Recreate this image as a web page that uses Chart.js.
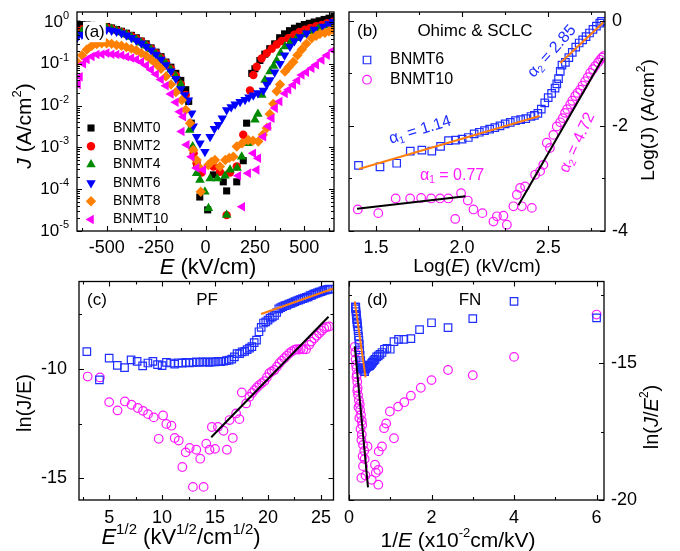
<!DOCTYPE html>
<html>
<head>
<meta charset="utf-8">
<title>BNMT leakage current analysis</title>
<script src="https://cdn.jsdelivr.net/npm/chart.js"></script>
<style>
  html, body { margin: 0; padding: 0; background: #fff; }
  #wrap { position: relative; width: 680px; height: 551px; overflow: hidden; }
  #wrap canvas { position: absolute; }
</style>
</head>
<body>
<div id="wrap">
  <canvas id="pa" width="340" height="285" style="left:0;top:0"></canvas>
  <canvas id="pb" width="340" height="285" style="left:340px;top:0"></canvas>
  <canvas id="pc" width="340" height="276" style="left:0;top:275px"></canvas>
  <canvas id="pd" width="340" height="276" style="left:340px;top:275px"></canvas>
</div>
<script>
// ---------- (a) J vs E, all compositions ----------
const eBNMT0 = [-650,-625,-600,-575,-550,-525,-500,-475,-450,-425,-400,-375,-350,-325,-300,-275,-250,-225,-200,-175,-150,-125,-100,-85,-72,-45,-29,11,40,90,107,158,191,208,234,250,275,300,325,350,375,400,425,450,475,500,525,550,575,600,625,650];
const jBNMT0 = [0.89,0.87,0.85,0.83,0.81,0.79,0.78,0.72,0.66,0.60,0.54,0.48,0.42,0.35,0.30,0.24,0.19,0.148,0.11,0.083,0.059,0.040,0.024,0.0126,0.0038,4.0e-4,6.5e-5,3.2e-5,2.2e-4,1.5e-4,9.1e-5,1.5e-4,4.8e-4,3.8e-3,0.059,0.076,0.12,0.17,0.23,0.30,0.42,0.52,0.62,0.71,0.79,0.87,0.93,1.0,1.07,1.15,1.23,1.35];
const eBNMT2 = [-650,-625,-600,-575,-550,-525,-500,-475,-450,-425,-400,-375,-350,-325,-300,-275,-250,-225,-200,-175,-150,-125,-100,-60,-45,-20,40,73,107,124,158,191,225,242,259,284,310,335,360,385,419,450,475,503,530,560,588,615,646];
const jBNMT2 = [0.60,0.66,0.74,0.76,0.76,0.76,0.74,0.69,0.63,0.58,0.51,0.46,0.40,0.34,0.28,0.23,0.18,0.138,0.105,0.076,0.052,0.032,0.018,7.2e-4,4.2e-4,2.5e-4,3.5e-4,2.6e-4,2.4e-5,2.5e-4,3.5e-4,2.0e-3,0.023,0.054,0.085,0.135,0.18,0.23,0.29,0.35,0.41,0.50,0.58,0.65,0.72,0.79,0.85,0.93,1.02];
const eBNMT4 = [-650,-625,-600,-575,-550,-525,-500,-475,-450,-425,-400,-375,-350,-325,-300,-275,-250,-225,-200,-175,-150,-125,-100,-80,-65,-45,-28,-3,15,23,60,99,107,124,160,183,215,250,265,285,301,326,345,360,380,402,430,461,500,537,570,610,646];
const jBNMT4 = [0.52,0.60,0.68,0.71,0.72,0.72,0.71,0.68,0.62,0.56,0.50,0.44,0.38,0.32,0.27,0.22,0.17,0.13,0.10,0.072,0.050,0.032,0.014,2.6e-3,1.05e-3,2.4e-4,1.66e-4,8.7e-5,3.5e-5,1.8e-4,1.8e-4,2.1e-4,2.4e-5,2.9e-4,3.2e-4,6.0e-4,1.26e-3,4.6e-3,6.3e-3,0.018,0.041,0.065,0.089,0.12,0.18,0.26,0.33,0.41,0.50,0.59,0.69,0.81,0.93];
const eBNMT6 = [-650,-625,-600,-575,-550,-525,-500,-475,-450,-425,-400,-375,-350,-325,-300,-275,-250,-225,-200,-175,-150,-125,-105,-87,-70,-62,-45,-28,-3,23,45,65,85,107,130,150,175,200,220,242,265,293,310,326,350,377,400,427,450,480,512,550,596,625,646];
const jBNMT6 = [0.42,0.50,0.60,0.66,0.68,0.68,0.66,0.63,0.59,0.54,0.48,0.42,0.36,0.31,0.26,0.21,0.166,0.126,0.093,0.066,0.044,0.025,0.018,0.0135,6.6e-3,3.2e-3,1.8e-3,1.26e-3,7.9e-4,1.8e-3,2.8e-3,3.5e-3,5.0e-3,7.8e-3,9.3e-3,0.0107,0.0123,0.0138,0.0158,0.0178,0.020,0.023,0.032,0.041,0.063,0.10,0.16,0.26,0.35,0.44,0.54,0.66,0.78,0.89,1.02];
const eBNMT8 = [-650,-625,-600,-575,-550,-525,-500,-475,-450,-425,-400,-375,-350,-325,-300,-275,-250,-225,-200,-175,-150,-120,-100,-78,-62,-45,-36,-24,14,30,48,73,100,120,141,158,185,216,240,267,290,310,325,343,360,377,402,420,444,465,487,510,537,560,579,604,625,646];
const jBNMT8 = [0.11,0.16,0.22,0.27,0.295,0.31,0.31,0.30,0.28,0.27,0.25,0.23,0.21,0.18,0.155,0.126,0.10,0.076,0.05,0.032,0.021,0.0135,7.9e-3,3.8e-3,8.7e-4,5.0e-4,3.5e-4,8.7e-5,3.8e-4,4.5e-4,5.0e-4,3.5e-4,5.0e-4,5.6e-4,6.0e-4,1.05e-3,1.26e-3,1.5e-3,1.45e-3,1.38e-3,2.0e-3,2.9e-3,6.3e-3,0.011,0.022,0.032,0.065,0.083,0.11,0.16,0.22,0.30,0.41,0.47,0.52,0.55,0.60,0.65];
const eBNMT10 = [-645,-635,-618,-600,-575,-550,-525,-500,-475,-450,-425,-400,-375,-350,-325,-300,-275,-250,-225,-200,-175,-150,-130,-120,-112,-95,-70,-45,-11,166,186,216,242,259,267,293,318,335,352,375,402,420,444,465,487,510,537,560,588,615,646];
const jBNMT10 = [0.032,0.049,0.10,0.126,0.15,0.166,0.17,0.18,0.17,0.166,0.16,0.148,0.138,0.126,0.11,0.091,0.072,0.056,0.042,0.030,0.019,0.012,7.1e-3,2.4e-3,5.4e-3,1.15e-3,6.0e-4,3.2e-4,2.9e-4,2.1e-4,3.8e-5,2.4e-4,7.2e-4,2.9e-4,5.5e-4,1.8e-3,3.2e-3,5.0e-3,8.7e-3,0.0126,0.0195,0.024,0.031,0.040,0.054,0.063,0.078,0.095,0.123,0.16,0.21];
const xTicksA = [-500, -250, 0, 250, 500];

// ---------- (b) Ohmic & SCLC: Log(J) vs Log(E) ----------
const logE6 = [1.398,1.523,1.62,1.699,1.766,1.824,1.875,1.921,1.962,2.0,2.036,2.07,2.1,2.13,2.16,2.19,2.22,2.25,2.28,2.31,2.34,2.37,2.4,2.42,2.44,2.46,2.48,2.5,2.52,2.54,2.55,2.56,2.57,2.58,2.6,2.62,2.64,2.66,2.68,2.7,2.72,2.74,2.76,2.78,2.8,2.81];
const logJ6 = [-2.75,-2.78,-2.71,-2.48,-2.46,-2.48,-2.39,-2.28,-2.27,-2.25,-2.22,-2.15,-2.12,-2.09,-2.06,-2.03,-2.0,-1.96,-1.93,-1.9,-1.88,-1.86,-1.82,-1.8,-1.76,-1.68,-1.56,-1.46,-1.38,-1.28,-1.2,-1.1,-0.96,-0.84,-0.79,-0.7,-0.6,-0.5,-0.42,-0.36,-0.3,-0.23,-0.16,-0.1,-0.04,-0.01];
const logE10 = [1.394,1.513,1.614,1.698,1.762,1.82,1.872,1.92,1.96,1.994,2.033,2.066,2.118,2.182,2.202,2.24,2.26,2.298,2.318,2.337,2.347,2.366,2.405,2.424,2.453,2.472,2.492,2.51,2.53,2.55,2.57,2.585,2.598,2.61,2.628,2.64,2.657,2.67,2.686,2.7,2.715,2.73,2.744,2.76,2.773,2.79,2.802,2.812,2.822];
const logJ10 = [-3.59,-3.66,-3.38,-3.38,-3.37,-3.38,-3.38,-3.38,-3.77,-3.28,-3.42,-3.59,-3.66,-3.82,-3.72,-3.71,-3.88,-3.53,-3.31,-3.18,-3.53,-3.15,-3.56,-2.93,-2.86,-2.74,-2.32,-2.42,-2.17,-2.01,-1.93,-1.85,-1.75,-1.68,-1.59,-1.52,-1.43,-1.37,-1.31,-1.23,-1.15,-1.07,-0.99,-0.92,-0.86,-0.79,-0.74,-0.7,-0.67];
const fitOhm6X = [1.4, 2.45],   fitOhm6Y = [-2.82, -1.81];
const fitScl6X = [2.57, 2.82],  fitScl6Y = [-0.8, -0.03];
const fitOhm10X = [1.39, 2.02], fitOhm10Y = [-3.575, -3.34];
const fitScl10X = [2.327, 2.818], fitScl10Y = [-3.51, -0.705];
const xTicksB = [1.5, 2.0, 2.5];
const yTicksB = [0, -2, -4];

// ---------- (c) Poole-Frenkel: ln(J/E) vs E^1/2 ----------
const sqrtE6 = [2.89,4.08,5.0,5.77,6.45,7.07,7.64,8.16,8.66,9.13,9.57,10.0,10.41,10.8,11.18,11.55,11.9,12.25,12.58,12.91,13.23,13.54,13.84,14.14,14.43,14.72,15.0,15.28,15.55,15.81,16.07,16.33,16.58,16.83,17.08,17.32,17.56,17.8,18.03,18.26,18.48,18.7,18.92,19.15,19.36,19.58,19.79,20.0,20.2,20.41,20.62,20.82,21.02,21.21,21.4,21.6,21.79,21.98,22.17,22.36,22.55,22.73,22.91,23.09,23.27,23.45,23.63,23.8,23.98,24.15,24.32,24.49,24.66,24.83,25.0,25.17,25.33,25.5,25.66,25.82];
const lnJE6 = [-9.21,-10.5,-9.51,-9.84,-9.94,-9.59,-9.66,-9.86,-9.73,-9.66,-9.8,-9.85,-9.7,-9.73,-9.78,-9.72,-9.74,-9.7,-9.72,-9.7,-9.68,-9.7,-9.68,-9.68,-9.7,-9.68,-9.68,-9.66,-9.67,-9.65,-9.62,-9.6,-9.55,-9.45,-9.3,-9.3,-9.22,-9.2,-9.12,-9.05,-8.98,-8.8,-8.68,-8.3,-8.1,-7.9,-7.85,-7.77,-7.68,-7.62,-7.55,-7.42,-7.25,-7.2,-7.15,-7.1,-7.08,-7.03,-7.0,-6.96,-6.92,-6.88,-6.85,-6.82,-6.78,-6.76,-6.72,-6.7,-6.65,-6.62,-6.58,-6.55,-6.52,-6.49,-6.47,-6.43,-6.4,-6.38,-6.36,-6.35];
const sqrtE10 = [2.97,4.13,5.0,5.79,6.48,7.11,7.7,8.2,8.67,9.21,9.68,10.09,10.4,10.88,11.19,11.57,11.91,12.23,12.6,12.91,13.23,13.6,13.92,14.17,14.48,14.7,15.0,15.27,15.8,16.12,16.37,16.68,16.99,17.3,17.53,17.94,18.25,18.5,18.72,18.95,19.19,19.42,19.66,19.9,20.13,20.36,20.6,20.84,21.08,21.3,21.55,21.78,22.02,22.25,22.49,22.7,22.9,23.1,23.35,23.6,23.9,24.1,24.37,24.6,24.84,25.08,25.31,25.55,25.78];
const lnJE10 = [-10.35,-10.39,-11.52,-11.9,-11.49,-11.64,-11.79,-11.92,-12.07,-12.22,-13.2,-12.13,-12.52,-12.6,-13.16,-13.28,-14.49,-13.82,-13.62,-15.4,-13.7,-14.11,-15.4,-13.42,-13.7,-12.66,-13.66,-12.66,-12.83,-13.7,-12.34,-13.16,-12.04,-12.3,-11.08,-11.58,-11.28,-11.1,-10.97,-10.85,-10.74,-10.65,-10.56,-10.38,-10.2,-10.12,-10.05,-9.9,-9.74,-9.62,-9.51,-9.4,-9.28,-9.2,-9.13,-9.1,-9.12,-9.08,-9.1,-9.1,-8.9,-8.75,-8.6,-8.48,-8.37,-8.25,-8.14,-8.08,-8.06];
const fitPF6X = [19.35, 26.19],  fitPF6Y = [-7.49, -6.32];
const fitPF10X = [14.64, 25.72], fitPF10Y = [-13.13, -7.61];
const xTicksC = [5, 10, 15, 20, 25];
const yTicksC = [-10, -15];

// ---------- (d) Fowler-Nordheim: ln(J/E^2) vs 1/E ----------
const invE6 = [0.154,0.16,0.165,0.17,0.175,0.18,0.185,0.19,0.195,0.2,0.21,0.22,0.23,0.24,0.25,0.26,0.27,0.285,0.3,0.32,0.34,0.36,0.38,0.4,0.42,0.44,0.46,0.48,0.5,0.52,0.55,0.57,0.6,0.63,0.67,0.71,0.75,0.8,0.86,0.92,1.0,1.09,1.2,1.33,1.5,1.71,2.0,2.4,3.0,4.0,6.0];
const lnJE2_6 = [-12.93,-13.0,-12.95,-13.1,-13.2,-13.25,-13.35,-13.4,-13.5,-13.55,-13.65,-13.8,-14.0,-14.15,-14.3,-14.5,-14.7,-14.9,-15.05,-15.15,-15.2,-15.25,-15.3,-15.2,-15.15,-15.12,-15.1,-15.1,-15.08,-15.05,-15.0,-14.95,-14.9,-14.85,-14.76,-14.72,-14.67,-14.6,-14.48,-14.45,-14.48,-14.2,-14.12,-14.12,-14.09,-13.76,-13.51,-13.69,-13.36,-12.73,-13.33];
const invE10 = [0.14,0.15,0.16,0.17,0.18,0.19,0.2,0.21,0.22,0.24,0.26,0.27,0.29,0.31,0.32,0.31,0.34,0.37,0.45,0.34,0.3,0.4,0.55,0.63,0.65,0.71,0.71,0.72,0.8,0.85,0.9,0.99,1.09,1.19,1.34,1.5,1.74,2.0,2.4,3.0,4.0,6.0,0.18,0.2,0.23,0.25,0.28,0.3,0.33,0.38];
const lnJE2_10 = [-14.39,-14.6,-14.85,-15.05,-15.18,-15.4,-15.67,-15.9,-16.16,-16.35,-16.5,-16.7,-16.89,-17.1,-17.25,-17.6,-17.98,-18.2,-18.04,-18.76,-19.19,-19.1,-19.26,-18.71,-19.0,-18.9,-19.44,-18.22,-18.04,-17.37,-17.2,-16.76,-17.74,-16.58,-16.42,-16.18,-15.89,-15.61,-15.24,-15.43,-14.76,-13.21,-15.5,-16.0,-16.6,-17.0,-17.4,-17.8,-18.4,-18.5];
const fitFN6X = [0.14, 0.40],  fitFN6Y = [-12.73, -15.51];
const fitFN10X = [0.14, 0.46], fitFN10Y = [-14.37, -19.54];
const xTicksD = [0, 2, 4, 6];
const yTicksD = [-15, -20];

// ---------- drawing ----------
const FAMILY = '"Liberation Sans", Arial, Helvetica, sans-serif';
Chart.defaults.font.family = FAMILY;
Chart.defaults.color = '#000';

const BLUE = '#1f2eff', MAGENTA = '#ff1aff', ORANGE = '#ff7f0e';
const PANELS = {};   // per-canvas decoration settings, read raw by the plugin

function pts(xs, ys) {
  const out = [];
  for (let i = 0; i < Math.min(xs.length, ys.length); i++) out.push({ x: xs[i], y: ys[i] });
  return out;
}

// text with italic / superscript / subscript pieces: flags 'i', 's' (sup), 'd' (sub)
function richText(ctx, parts, x, y, size, opt) {
  opt = opt || {};
  const sub = opt.sup || 0.62;
  const fontOf = f => {
    const small = f.includes('s') || f.includes('d');
    return (f.includes('i') ? 'italic ' : '') + (small ? Math.round(size * sub) : size) + 'px ' + FAMILY;
  };
  ctx.save();
  ctx.translate(x, y);
  if (opt.rot) ctx.rotate(opt.rot * Math.PI / 180);
  ctx.textBaseline = 'middle';
  ctx.textAlign = 'left';
  let w = 0;
  parts.forEach(([t, f]) => { ctx.font = fontOf(f); w += ctx.measureText(t).width; });
  let cx = opt.align === 'left' ? 0 : opt.align === 'right' ? -w : -w / 2;
  if (opt.bg) {
    ctx.fillStyle = '#fff';
    ctx.fillRect(cx - 1, -size * 0.6, w + 2, size * 1.2);
  }
  ctx.fillStyle = opt.color || '#000';
  parts.forEach(([t, f]) => {
    ctx.font = fontOf(f);
    const dy = f.includes('s') ? -size * 0.36 : f.includes('d') ? size * 0.28 : 0;
    ctx.fillText(t, cx, dy);
    cx += ctx.measureText(t).width;
  });
  ctx.restore();
}

// box frame with inward ticks, texts, legend
const panelPlugin = {
  id: 'panel',
  afterDatasetsDraw(chart) {
    const o = PANELS[chart.canvas.id];
    if (!o) return;
    const ctx = chart.ctx, a = chart.chartArea, sx = chart.scales.x, sy = chart.scales.y;
    ctx.save();
    ctx.strokeStyle = '#000';
    ctx.lineWidth = 1.3;
    ctx.strokeRect(a.left, a.top, a.right - a.left, a.bottom - a.top);
    ctx.lineWidth = 1.1;
    const mark = (axis, vals, len) => {
      const s = axis === 'x' ? sx : sy;
      vals.forEach(v => {
        const p = Math.round(s.getPixelForValue(v)) + 0.5;
        ctx.beginPath();
        if (axis === 'x') {
          ctx.moveTo(p, a.bottom); ctx.lineTo(p, a.bottom - len);
          ctx.moveTo(p, a.top); ctx.lineTo(p, a.top + len);
        } else {
          ctx.moveTo(a.left, p); ctx.lineTo(a.left + len, p);
          ctx.moveTo(a.right, p); ctx.lineTo(a.right - len, p);
        }
        ctx.stroke();
      });
    };
    mark('x', o.ticks.xMajor, 5); mark('x', o.ticks.xMinor, 3);
    mark('y', o.ticks.yMajor, 5); mark('y', o.ticks.yMinor, 3);

    if (o.logLabels) {
      o.ticks.yMajor.forEach(v => {
        const e = Math.round(Math.log10(v));
        richText(ctx, [['10', ''], [String(e), 's']], o.logLabels.x, sy.getPixelForValue(v), o.logLabels.size, { align: 'right' });
      });
    }
    (o.texts || []).forEach(t => {
      const x = t.at ? t.at[0] : sx.getPixelForValue(t.val[0]);
      const y = t.at ? t.at[1] : sy.getPixelForValue(t.val[1]);
      richText(ctx, t.parts, x, y, t.size, t);
    });
    if (o.legend) {
      const L = o.legend;
      chart.data.datasets.filter(d => d.label).forEach((d, i) => {
        const y = L.y + i * L.dy;
        ctx.fillStyle = d.pointBackgroundColor;
        ctx.strokeStyle = d.pointBorderColor;
        ctx.lineWidth = d.pointBorderWidth;
        Chart.helpers.drawPoint(ctx, {
          pointStyle: d.pointStyle, radius: d.pointRadius,
          rotation: d.pointRotation || 0, borderWidth: d.pointBorderWidth
        }, L.x, y);
        richText(ctx, [[d.label, '']], L.textX, y, L.size, { align: 'left' });
      });
    }
    ctx.restore();
  }
};
Chart.register(panelPlugin);

function filled(label, xs, ys, style, color, r, rot, order) {
  return { label, data: pts(xs, ys), pointStyle: style, pointRadius: r, pointHoverRadius: r,
    pointRotation: rot, pointBackgroundColor: color, pointBorderColor: color, pointBorderWidth: 0, order };
}
function open(label, xs, ys, style, color, r) {
  return { label, data: pts(xs, ys), pointStyle: style, pointRadius: r, pointHoverRadius: r,
    pointBackgroundColor: 'rgba(0,0,0,0)', pointBorderColor: color, pointBorderWidth: 1.2, order: 2 };
}
function fit(xs, ys, color) {
  return { data: pts(xs, ys), showLine: true, borderColor: color, borderWidth: 2, pointRadius: 0, order: 0 };
}

function makePanel(id, o) {
  PANELS[id] = o.panel;
  const noPad = s => { s.paddingLeft = 0; s.paddingRight = 0; s.paddingTop = 0; s.paddingBottom = 0; };
  return new Chart(document.getElementById(id), {
    type: 'scatter',
    data: { datasets: o.datasets },
    options: {
      responsive: false,
      animation: false,
      devicePixelRatio: 1,
      layout: { padding: o.pad },
      plugins: { legend: { display: false }, tooltip: { enabled: false } },
      scales: {
        x: {
          type: 'linear', position: 'bottom', min: o.x[0], max: o.x[1],
          grid: { display: false, drawTicks: false }, border: { display: false },
          ticks: { font: { size: 18 }, padding: o.xPad, maxRotation: 0, minRotation: 0, autoSkip: false,
                   callback: o.xFmt || (v => String(v)) },
          afterBuildTicks: s => { s.ticks = o.xLabels.map(v => ({ value: v })); },
          afterFit: s => { s.height = o.xH; noPad(s); }
        },
        y: {
          type: o.yLog ? 'logarithmic' : 'linear', position: o.yPos, min: o.y[0], max: o.y[1],
          grid: { display: false, drawTicks: false }, border: { display: false },
          ticks: { display: !o.yLog, font: { size: 18 }, padding: o.yPad, autoSkip: false,
                   callback: v => String(v) },
          afterBuildTicks: s => { if (o.yLabels) s.ticks = o.yLabels.map(v => ({ value: v })); },
          afterFit: s => { s.width = o.yW; noPad(s); }
        }
      }
    }
  });
}

// panel (a)
const decades = [-5, -4, -3, -2, -1, 0];
const yMajA = decades.map(e => Math.pow(10, e));
const yMinA = [];
decades.forEach(e => { for (let k = 2; k <= 9; k++) if (k * Math.pow(10, e) < 1.73) yMinA.push(k * Math.pow(10, e)); });

makePanel('pa', {
  pad: { left: 0, right: 6, top: 12, bottom: 0 },
  x: [-650, 650], y: [1e-5, 1.734], yLog: true, yPos: 'left', yW: 77, xH: 54, xPad: 6, yPad: 8,
  xLabels: xTicksA,
  datasets: [
    filled('BNMT0', eBNMT0, jBNMT0, 'rect', '#000000', 5, 0, 6),
    filled('BNMT2', eBNMT2, jBNMT2, 'circle', '#ff0000', 4.2, 0, 5),
    filled('BNMT4', eBNMT4, jBNMT4, 'triangle', '#008a00', 5.5, 0, 4),
    filled('BNMT6', eBNMT6, jBNMT6, 'triangle', '#0000ff', 5.5, 180, 3),
    filled('BNMT8', eBNMT8, jBNMT8, 'rectRot', '#ff8000', 5.2, 0, 2),
    filled('BNMT10', eBNMT10, jBNMT10, 'triangle', '#ff00ff', 5.5, -90, 1)
  ],
  panel: {
    ticks: { xMajor: xTicksA, xMinor: [-625, -375, -125, 125, 375, 625], yMajor: yMajA, yMinor: yMinA },
    logLabels: { x: 69, size: 17 },
    legend: { x: 91, textX: 113, y: 128, dy: 18.3, size: 14 },
    texts: [
      { parts: [['(a)', '']], at: [84, 32], size: 17, align: 'left', bg: true },
      { parts: [['E', 'i'], [' (kV/cm)', '']], at: [208, 268], size: 22 },
      { parts: [['J', 'i'], [' (A/cm', ''], ['2', 's'], [')', '']], at: [25, 126], size: 21, rot: -90 }
    ]
  }
});

// panel (b)
makePanel('pb', {
  pad: { left: 9, right: 0, top: 12, bottom: 0 },
  x: [1.343, 2.83], y: [-4, 0.17], yPos: 'right', yW: 75, xH: 54, xPad: 6, yPad: 7,
  xLabels: xTicksB, yLabels: yTicksB, xFmt: v => v.toFixed(1),
  datasets: [
    open('BNMT6', logE6, logJ6, 'rect', BLUE, 5.3),
    open('BNMT10', logE10, logJ10, 'circle', MAGENTA, 4.3),
    fit(fitOhm6X, fitOhm6Y, ORANGE),
    fit(fitScl6X, fitScl6Y, ORANGE),
    fit(fitOhm10X, fitOhm10Y, '#000'),
    fit(fitScl10X, fitScl10Y, '#000')
  ],
  panel: {
    ticks: { xMajor: xTicksB, xMinor: [1.75, 2.25, 2.75], yMajor: yTicksB, yMinor: [-1, -3] },
    legend: { x: 27, textX: 50, y: 60, dy: 19.7, size: 16 },
    texts: [
      { parts: [['(b)', '']], at: [17, 31], size: 17, align: 'left' },
      { parts: [['Ohimc & SCLC', '']], at: [135, 31], size: 17 },
      { parts: [['Log(', ''], ['E', 'i'], [') (kV/cm)', '']], at: [137, 267], size: 19 },
      { parts: [['Log(J) (A/cm', ''], ['2', 's'], [')', '']], at: [309, 120], size: 19, rot: -90 },
      { parts: [['\u03b1', ''], ['1', 'd'], [' = 1.14', '']], val: [1.756, -2.08], size: 16, rot: -17, color: BLUE },
      { parts: [['\u03b1', ''], ['1', 'd'], [' = 0.77', '']], val: [1.942, -2.95], size: 16, color: MAGENTA },
      { parts: [['\u03b1', ''], ['2', 'd'], [' = 2.85', '']], val: [2.522, -0.58], size: 16, rot: -48, color: BLUE },
      { parts: [['\u03b1', ''], ['2', 'd'], [' = 4.72', '']], val: [2.669, -2.32], size: 16, rot: -65, color: MAGENTA }
    ]
  }
});

// panel (c)
makePanel('pc', {
  pad: { left: 0, right: 6, top: 6, bottom: 0 },
  x: [2.15, 26.19], y: [-16, -6], yPos: 'left', yW: 79, xH: 51, xPad: 7, yPad: 12,
  xLabels: xTicksC, yLabels: yTicksC,
  datasets: [
    open('BNMT6', sqrtE6, lnJE6, 'rect', BLUE, 5.3),
    open('BNMT10', sqrtE10, lnJE10, 'circle', MAGENTA, 4.3),
    fit(fitPF6X, fitPF6Y, ORANGE),
    fit(fitPF10X, fitPF10Y, '#000')
  ],
  panel: {
    ticks: { xMajor: xTicksC, xMinor: [2.5, 7.5, 12.5, 17.5, 22.5], yMajor: yTicksC, yMinor: [-7.5, -12.5] },
    texts: [
      { parts: [['(c)', '']], at: [87, 25], size: 17, align: 'left' },
      { parts: [['PF', '']], at: [207, 25], size: 17 },
      { parts: [['E', 'i'], ['1/2', 's'], [' (kV', ''], ['1/2', 's'], ['/cm', ''], ['1/2', 's'], [')', '']], at: [181, 263], size: 22, sup: 0.68 },
      { parts: [['ln(J/E)', '']], at: [25, 128], size: 20, rot: -90 }
    ]
  }
});

// panel (d)
makePanel('pd', {
  pad: { left: 9, right: 0, top: 6, bottom: 0 },
  x: [0, 6.18], y: [-20, -12], yPos: 'right', yW: 76, xH: 51, xPad: 7, yPad: 7,
  xLabels: xTicksD, yLabels: yTicksD,
  datasets: [
    open('BNMT6', invE6, lnJE2_6, 'rect', BLUE, 5.3),
    open('BNMT10', invE10, lnJE2_10, 'circle', MAGENTA, 4.3),
    fit(fitFN6X, fitFN6Y, ORANGE),
    fit(fitFN10X, fitFN10Y, '#000')
  ],
  panel: {
    ticks: { xMajor: xTicksD, xMinor: [1, 3, 5], yMajor: yTicksD, yMinor: [-12.5, -17.5] },
    texts: [
      { parts: [['(d)', '']], at: [27, 25], size: 17, align: 'left' },
      { parts: [['FN', '']], at: [130, 25], size: 17 },
      { parts: [['1/', ''], ['E', 'i'], [' (x10', ''], ['-2', 's'], ['cm/kV)', '']], at: [118, 266], size: 21 },
      { parts: [['ln(', ''], ['J', 'i'], ['/', ''], ['E', 'i'], ['2', 's'], [')', '']], at: [312, 142], size: 20, rot: -90 }
    ]
  }
});
</script>
</body>
</html>
